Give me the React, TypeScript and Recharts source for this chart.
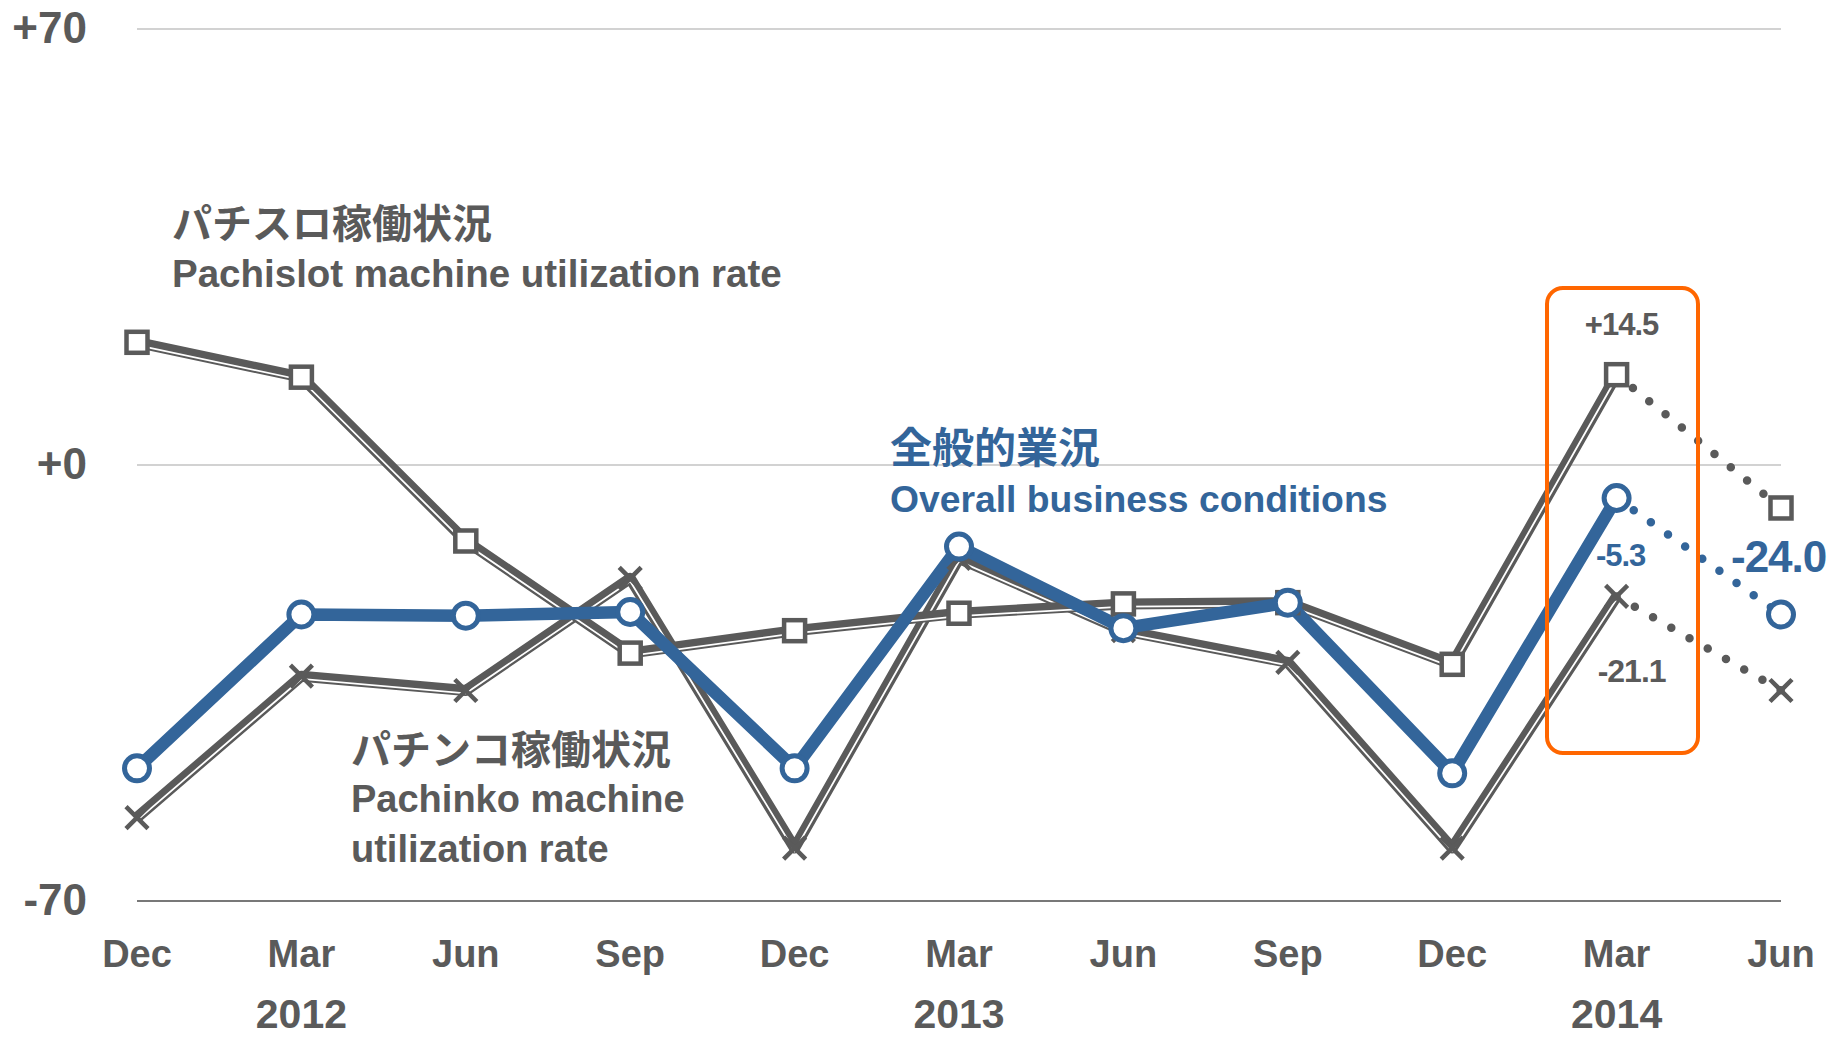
import { LineChart, Line, XAxis, YAxis, CartesianGrid } from "recharts";

const months = ["Dec", "Mar", "Jun", "Sep", "Dec", "Mar", "Jun", "Sep", "Dec", "Mar", "Jun"];
const years = ["", "2012", "", "", "", "2013", "", "", "", "2014", ""];

// index 9 (Mar 2014) is the latest actual; index 10 (Jun 2014) is the outlook
const pachislot = [19.7, 14.1, -12.2, -30.2, -26.6, -23.8, -22.3, -22.1, -32.0, 14.5, -6.9];
const overall = [-48.7, -24.0, -24.2, -23.6, -48.7, -13.1, -26.2, -22.1, -49.5, -5.3, -24.0];
const pachinko = [-56.6, -33.9, -36.2, -18.2, -61.5, -15.0, -26.6, -31.7, -61.5, -21.1, -36.2];
const lastActual = 9;

const yTicks = [-70, 0, 70];

const GRAY = "#5a5a5a";
const BLUE = "#33659a";
const ORANGE = "#ff6600";
const LATIN = "'Liberation Sans', Arial, sans-serif";
const CJK = "'Noto Sans CJK JP', 'Noto Sans', sans-serif";

const data = months.map((m, i) => ({
  month: m,
  pachislot: pachislot[i],
  overall: overall[i],
  pachinko: pachinko[i],
  pachislotA: i <= lastActual ? pachislot[i] : null,
  overallA: i <= lastActual ? overall[i] : null,
  pachinkoA: i <= lastActual ? pachinko[i] : null,
  pachislotF: i >= lastActual ? pachislot[i] : null,
  overallF: i >= lastActual ? overall[i] : null,
  pachinkoF: i >= lastActual ? pachinko[i] : null,
}));

const fmt = (v: number) => (v > 0 ? "+" : "") + v.toFixed(1);

function callout(
  cx: number,
  cy: number,
  value: number,
  dx: number,
  dy: number,
  color: string,
  size: number,
  anchor: "start" | "middle" | "end" = "middle",
) {
  return (
    <text
      x={cx + dx}
      y={cy + dy}
      textAnchor={anchor}
      fill={color}
      fontFamily={LATIN}
      fontWeight={700}
      fontSize={size}
      letterSpacing={-1}
    >
      {fmt(value)}
    </text>
  );
}

const squareDot = (p: any) => {
  const { cx, cy, index, value } = p;
  if (cx == null || cy == null || value == null) return <g key={`sq-${index}`} />;
  return (
    <g key={`sq-${index}`}>
      <rect x={cx - 10.5} y={cy - 10.5} width={21} height={21} fill="#fff" stroke={GRAY} strokeWidth={4.5} />
      {index === lastActual && callout(cx, cy, value, 5, -40, GRAY, 31)}
    </g>
  );
};

const crossDot = (p: any) => {
  const { cx, cy, index, value } = p;
  if (cx == null || cy == null || value == null) return <g key={`x-${index}`} />;
  const s = 11;
  return (
    <g key={`x-${index}`}>
      <path
        d={`M${cx - s},${cy - s}L${cx + s},${cy + s}M${cx + s},${cy - s}L${cx - s},${cy + s}`}
        stroke={GRAY}
        strokeWidth={4.5}
        fill="none"
      />
      {index === lastActual && callout(cx, cy, value, 15, 86, GRAY, 32)}
    </g>
  );
};

const circleDot = (p: any) => {
  const { cx, cy, index, value } = p;
  if (cx == null || cy == null || value == null) return <g key={`c-${index}`} />;
  return (
    <g key={`c-${index}`}>
      <circle cx={cx} cy={cy} r={12.5} fill="#fff" stroke={BLUE} strokeWidth={5} />
      {index === lastActual && callout(cx, cy, value, 4, 68, BLUE, 31)}
      {index === months.length - 1 && callout(cx, cy, value, -50, -42, BLUE, 44, "start")}
    </g>
  );
};

const MonthTick = (p: any) => {
  const { x, y, index } = p;
  return (
    <g>
      <text x={x} y={y + 66} textAnchor="middle" fill={GRAY} fontFamily={LATIN} fontWeight={700} fontSize={38}>
        {months[index]}
      </text>
      {years[index] && (
        <text x={x} y={y + 127} textAnchor="middle" fill={GRAY} fontFamily={LATIN} fontWeight={700} fontSize={41}>
          {years[index]}
        </text>
      )}
    </g>
  );
};

const ValueTick = (p: any) => {
  const { x, y, payload } = p;
  const v = payload.value;
  const label = v > 0 ? `+${v}` : v === 0 ? "+0" : `${v}`;
  return (
    <text x={x} y={y + 14} textAnchor="end" fill={GRAY} fontFamily={LATIN} fontWeight={700} fontSize={44}>
      {label}
    </text>
  );
};

const dotted = {
  strokeWidth: 8.5,
  strokeDasharray: "0 21",
  strokeLinecap: "round" as const,
  dot: false,
  activeDot: false,
  isAnimationActive: false,
  connectNulls: false,
};

const heavy = {
  strokeWidth: 11,
  strokeLinejoin: "round" as const,
  dot: false,
  activeDot: false,
  isAnimationActive: false,
};

const core = {
  stroke: "#fff",
  strokeWidth: 1.8,
  dot: false,
  activeDot: false,
  isAnimationActive: false,
  className: "core",
};

export default function App() {
  return (
    <div style={{ position: "relative", width: 1830, height: 1037, background: "#fff" }}>
      <style>{`body{margin:0} .core path{transform:translate(0px,2.8px)}`}</style>
      <LineChart width={1830} height={1037} data={data} margin={{ top: 29, right: 49, left: 0, bottom: 0 }}>
        <CartesianGrid vertical={false} stroke="#a6a6a6" strokeWidth={1.2} />
        <XAxis
          dataKey="month"
          interval={0}
          height={136}
          tickSize={0}
          tickMargin={0}
          tick={<MonthTick />}
          axisLine={{ stroke: GRAY, strokeWidth: 1.5 }}
          tickLine={false}
        />
        <YAxis
          type="number"
          domain={[-70, 70]}
          ticks={yTicks}
          width={137}
          tickSize={0}
          tickMargin={50}
          tick={<ValueTick />}
          axisLine={false}
          tickLine={false}
        />

        <Line dataKey="pachinkoA" stroke={GRAY} {...heavy} />
        <Line dataKey="pachinkoA" {...core} />
        <Line dataKey="pachislotA" stroke={GRAY} {...heavy} />
        <Line dataKey="pachislotA" {...core} />
        <Line dataKey="pachinkoF" stroke={GRAY} {...dotted} />
        <Line dataKey="pachislotF" stroke={GRAY} {...dotted} />
        <Line dataKey="pachinko" stroke="none" dot={crossDot} activeDot={false} isAnimationActive={false} />
        <Line dataKey="pachislot" stroke="none" dot={squareDot} activeDot={false} isAnimationActive={false} />

        <Line dataKey="overallA" stroke={BLUE} {...heavy} strokeWidth={12.5} />
        <Line dataKey="overallF" stroke={BLUE} {...dotted} />
        <Line dataKey="overall" stroke="none" dot={circleDot} activeDot={false} isAnimationActive={false} />
      </LineChart>

      <svg
        width={1830}
        height={1037}
        style={{ position: "absolute", left: 0, top: 0, pointerEvents: "none" }}
      >
        <rect x={1547} y={288} width={151} height={465} rx={16} fill="none" stroke={ORANGE} strokeWidth={4} />

        <text x={172} y={221} dominantBaseline="central" fill={GRAY} fontFamily={CJK} fontWeight={700} fontSize={40}>
          パチスロ稼働状況
        </text>
        <text x={172} y={287} fill={GRAY} fontFamily={LATIN} fontWeight={700} fontSize={38.5}>
          Pachislot machine utilization rate
        </text>

        <text x={890} y={444} dominantBaseline="central" fill={BLUE} fontFamily={CJK} fontWeight={700} fontSize={42}>
          全般的業況
        </text>
        <text x={890} y={512} fill={BLUE} fontFamily={LATIN} fontWeight={700} fontSize={37.3}>
          Overall business conditions
        </text>

        <text x={351} y={747} dominantBaseline="central" fill={GRAY} fontFamily={CJK} fontWeight={700} fontSize={40}>
          パチンコ稼働状況
        </text>
        <text x={351} y={812} fill={GRAY} fontFamily={LATIN} fontWeight={700} fontSize={38}>
          Pachinko machine
        </text>
        <text x={351} y={862} fill={GRAY} fontFamily={LATIN} fontWeight={700} fontSize={38}>
          utilization rate
        </text>
      </svg>
    </div>
  );
}
